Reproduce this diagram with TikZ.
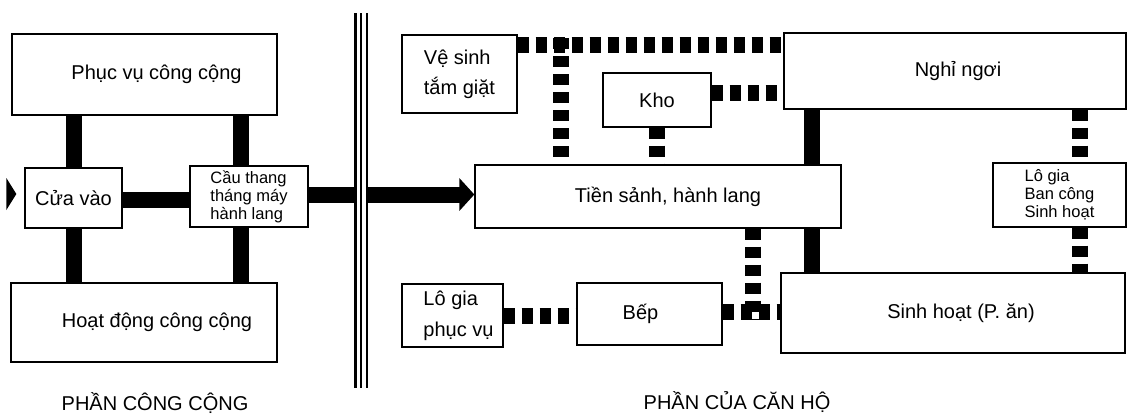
\documentclass[tikz,border=0pt]{standalone}
\usepackage{fontspec}
\setmainfont{Liberation Sans}
\usetikzlibrary{arrows.meta,calc,backgrounds}
\begin{document}
\begin{tikzpicture}[x=1pt,y=-1pt,
  box/.style={draw,line width=1.3pt,inner sep=0pt,font=\fontsize{20}{24}\selectfont},
  smalltext/.style={font=\fontsize{16.5}{18}\selectfont,align=left},
  solidconn/.style={line width=16pt},
  dashconn/.style={line width=16pt,dash pattern=on 11pt off 7pt},
  divline/.style={line width=#1},
  caption/.style={font=\fontsize{20}{24}\selectfont,anchor=base},
]
\useasboundingbox (0,0) rectangle (1128,413);

% ---- public part
\node[box,minimum width=265pt,minimum height=81pt] (pv) at (144.5,74.5) {\hspace*{24pt}Phục vụ công cộng};
\node[box,minimum width=97pt,minimum height=60pt] (cv) at (73.5,198) {Cửa vào};
\node[box,minimum width=118pt,minimum height=61pt,smalltext] (ct) at (249,196.5) {Cầu thang\\tháng máy\\hành lang};
\node[box,minimum width=266pt,minimum height=79pt] (hd) at (144,322.5) {\hspace*{26pt}Hoạt động công cộng};

% ---- apartment part
\node[box,minimum width=115pt,minimum height=78pt,align=left,font=\fontsize{20}{30}\selectfont] (vs) at (459.5,74) {Vệ sinh\\tắm giặt};
\node[box,minimum width=108pt,minimum height=54pt] (kho) at (657,100) {Kho};
\node[box,minimum width=366pt,minimum height=63pt] (ts) at (658,196.5) {\hspace*{20pt}Tiền sảnh, hành lang};
\node[box,minimum width=342pt,minimum height=76pt] (nn) at (955,71) {\hspace*{6pt}Nghỉ ngơi};
\node[box,minimum width=133pt,minimum height=64pt,smalltext] (lg) at (1059.5,195) {Lô gia\\Ban công\\Sinh hoạt};
\node[box,minimum width=344pt,minimum height=80pt] (sh) at (953,313) {\hspace*{16pt}Sinh hoạt (P. ăn)};
\node[box,minimum width=101pt,minimum height=63pt,align=left,font=\fontsize{20}{31}\selectfont] (lgpv) at (452.5,315.5) {\hspace*{12pt}Lô gia\\\hspace*{12pt}phục vụ};
\node[box,minimum width=145pt,minimum height=62pt] (bep) at (649.5,314) {Bếp\hspace*{18pt}};

\coordinate (ytop) at (0,45);
\coordinate (c1) at (812,0);
\coordinate (c2) at (561,38);
\coordinate (c3) at (1080,0);
\coordinate (c4) at (753,320);

\begin{scope}[on background layer]
  % solid connectors
  \draw[solidconn] (cv.north) -- (cv.north |- pv.south);
  \draw[solidconn] (cv.south) -- (cv.south |- hd.north);
  \draw[solidconn] ([xshift=-8pt]ct.north) -- ([xshift=-8pt]ct.north |- pv.south);
  \draw[solidconn] ([xshift=-8pt]ct.south) -- ([xshift=-8pt]ct.south |- hd.north);
  \draw[solidconn] ([yshift=-2pt]cv.east) -- ([yshift=-2pt]cv.east -| ct.west);
  \draw[solidconn,-{Triangle[length=15pt,width=32pt]}] ([yshift=2pt]ct.east) -- ([yshift=2pt]ct.east -| ts.west);
  \draw[solidconn] (nn.south -| c1) -- (ts.north -| c1);
  \draw[solidconn] (ts.south -| c1) -- (sh.north -| c1);
  % dashed connectors
  \draw[dashconn] (vs.east |- ytop) -- (nn.west |- ytop);
  \draw[dashconn] (c2) -- (c2 |- ts.north);
  \draw[dashconn] ([yshift=7pt]kho.east) -- ([yshift=7pt]kho.east -| nn.west);
  \draw[dashconn] (kho.south) -- (kho.south |- ts.north);
  \draw[dashconn] (nn.south -| c3) -- (lg.north -| c3);
  \draw[dashconn] (lg.south -| c3) -- (sh.north -| c3);
  \draw[dashconn] (ts.south -| c4) -- (c4);
  \draw[dashconn] ([yshift=2pt]bep.east) -- ([yshift=2pt]bep.east -| sh.west);
  \draw[dashconn] (lgpv.east) -- (lgpv.east -| bep.west);
\end{scope}

% entrance marker
\fill ($(cv.west)+(-18,-20)$) -- ($(cv.west)+(-8,-4)$) -- ($(cv.west)+(-18,12)$) -- cycle;

% divider
\fill[white] (356.5,13) rectangle (366,388);
\draw[divline=3pt] (355,13) -- (355,388);
\draw[divline=1.2pt] (361,13) -- (361,388);
\draw[divline=2pt] (367,13) -- (367,388);

% captions
\node[caption] (cap1) at (155,410) {PHẦN CÔNG CỘNG};
\node[caption] (cap2) at (737,409) {PHẦN CỦA CĂN HỘ};
\end{tikzpicture}
\end{document}
